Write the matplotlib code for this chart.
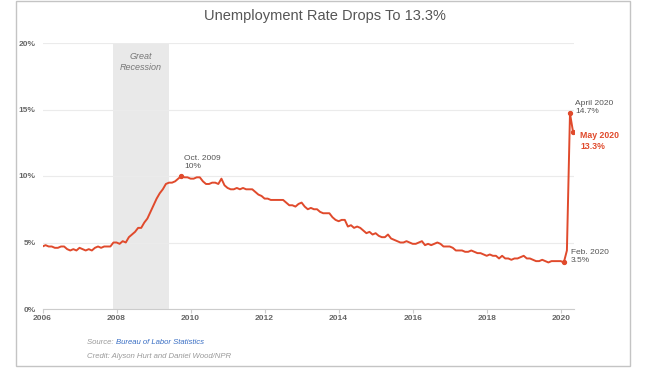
import matplotlib
matplotlib.use("Agg")
import matplotlib.pyplot as plt
from matplotlib.patches import Rectangle
import numpy as np

plt.rcParams["font.family"] = ["Liberation Sans", "DejaVu Sans"]

# monthly unemployment rate (%), Jan..Dec
rate_2006 = [4.7, 4.8, 4.7, 4.7, 4.6, 4.6, 4.7, 4.7, 4.5, 4.4, 4.5, 4.4]
rate_2007 = [4.6, 4.5, 4.4, 4.5, 4.4, 4.6, 4.7, 4.6, 4.7, 4.7, 4.7, 5.0]
rate_2008 = [5.0, 4.9, 5.1, 5.0, 5.4, 5.6, 5.8, 6.1, 6.1, 6.5, 6.8, 7.3]
rate_2009 = [7.8, 8.3, 8.7, 9.0, 9.4, 9.5, 9.5, 9.6, 9.8, 10.0, 9.9, 9.9]
rate_2010 = [9.8, 9.8, 9.9, 9.9, 9.6, 9.4, 9.4, 9.5, 9.5, 9.4, 9.8, 9.3]
rate_2011 = [9.1, 9.0, 9.0, 9.1, 9.0, 9.1, 9.0, 9.0, 9.0, 8.8, 8.6, 8.5]
rate_2012 = [8.3, 8.3, 8.2, 8.2, 8.2, 8.2, 8.2, 8.0, 7.8, 7.8, 7.7, 7.9]
rate_2013 = [8.0, 7.7, 7.5, 7.6, 7.5, 7.5, 7.3, 7.2, 7.2, 7.2, 6.9, 6.7]
rate_2014 = [6.6, 6.7, 6.7, 6.2, 6.3, 6.1, 6.2, 6.1, 5.9, 5.7, 5.8, 5.6]
rate_2015 = [5.7, 5.5, 5.4, 5.4, 5.6, 5.3, 5.2, 5.1, 5.0, 5.0, 5.1, 5.0]
rate_2016 = [4.9, 4.9, 5.0, 5.1, 4.8, 4.9, 4.8, 4.9, 5.0, 4.9, 4.7, 4.7]
rate_2017 = [4.7, 4.6, 4.4, 4.4, 4.4, 4.3, 4.3, 4.4, 4.3, 4.2, 4.2, 4.1]
rate_2018 = [4.0, 4.1, 4.0, 4.0, 3.8, 4.0, 3.8, 3.8, 3.7, 3.8, 3.8, 3.9]
rate_2019 = [4.0, 3.8, 3.8, 3.7, 3.6, 3.6, 3.7, 3.6, 3.5, 3.6, 3.6, 3.6]
rate_2020 = [3.6, 3.5, 4.4, 14.7, 13.3]

all_years = [rate_2006, rate_2007, rate_2008, rate_2009, rate_2010, rate_2011, rate_2012,
             rate_2013, rate_2014, rate_2015, rate_2016, rate_2017, rate_2018, rate_2019, rate_2020]
rate = np.concatenate(all_years)
dates = np.array([2006 + i + m / 12 for i, yr in enumerate(all_years) for m in range(len(yr))])

recession = (2007 + 11 / 12, 2009 + 5 / 12)
year_ticks = [2006, 2008, 2010, 2012, 2014, 2016, 2018, 2020]
pct_ticks = [0, 5, 10, 15, 20]

# (date, value, label, offset px, va, highlighted)
callouts = [
    (2009 + 9 / 12, 10.0, "Oct. 2009\n10%", (3, 6), "bottom", False),
    (2020 + 3 / 12, 14.7, "April 2020\n14.7%", (5, -2), "bottom", False),
    (2020 + 4 / 12, 13.3, "May 2020\n13.3%", (7, 1), "top", True),
    (2020 + 1 / 12, 3.5, "Feb. 2020\n3.5%", (7, -2), "bottom", False),
]

RED = "#e04a2c"
GRID = "#ebebeb"
TXT = "#555555"

fig = plt.figure(figsize=(6.56, 3.81), dpi=100)
fig.patches.append(Rectangle((16 / 656, 1 - 366 / 381), (630 - 16) / 656, 365 / 381,
                             transform=fig.transFigure, fill=False, edgecolor="#c4c4c4", linewidth=1.0))
ax = fig.add_axes([42.5 / 656, 1 - 309 / 381, (574 - 42.5) / 656, (309 - 43) / 381])

ax.axvspan(recession[0], recession[1], color="#e9e9e9", zorder=0, linewidth=0)
ax.text(sum(recession) / 2, 19.3, "Great\nRecession", ha="center", va="top", fontsize=6.5,
        style="italic", color="#777777", linespacing=1.3)

ax.plot(dates, rate, color=RED, linewidth=1.4, zorder=3, solid_joinstyle="round")

for x, y, label, off, va, hl in callouts:
    ax.plot([x], [y], "o", color=RED, markersize=2.8, zorder=4)
    ax.annotate(label, (x, y), xytext=(off[0] * 0.72, off[1] * 0.72), textcoords="offset points",
                ha="left", va=va, fontsize=6 if not hl else 6.3, linespacing=1.3,
                color=RED if hl else TXT, fontweight="bold" if hl else "normal")

ax.set_xlim(2006, 2020 + 4.3 / 12)
ax.set_ylim(0, 20)
ax.set_xticks(year_ticks)
ax.set_xticklabels([str(y) for y in year_ticks])
ax.set_yticks(pct_ticks)
ax.set_yticklabels([f"{p}%" for p in pct_ticks])
ax.grid(axis="y", color=GRID, linewidth=0.8)
ax.set_axisbelow(True)
for s in ["top", "right", "left"]:
    ax.spines[s].set_visible(False)
ax.spines["bottom"].set_color("#cccccc")
ax.tick_params(axis="x", length=3, color="#cccccc", pad=1.5, labelsize=6, labelcolor="#666666")
ax.tick_params(axis="y", length=0, pad=5, labelsize=6, labelcolor="#666666")
for lbl in ax.get_xticklabels() + ax.get_yticklabels():
    lbl.set_fontweight("bold")

fig.text(325 / 656, 1 - 16 / 381, "Unemployment Rate Drops To 13.3%", ha="center", va="center",
         fontsize=10.5, color=TXT)

src = fig.text(87 / 656, 1 - 342 / 381, "Source: ", ha="left", va="center", fontsize=5.6,
               style="italic", color="#999999")
fig.canvas.draw()
bb = src.get_window_extent()
fig.text(bb.x1 / 656, 1 - 342 / 381, "Bureau of Labor Statistics", ha="left", va="center",
         fontsize=5.6, style="italic", color="#3a6fc4")
fig.text(87 / 656, 1 - 357 / 381, "Credit: Alyson Hurt and Daniel Wood/NPR", ha="left", va="center",
         fontsize=5.6, style="italic", color="#999999")

fig.savefig("out.png", dpi=100)
